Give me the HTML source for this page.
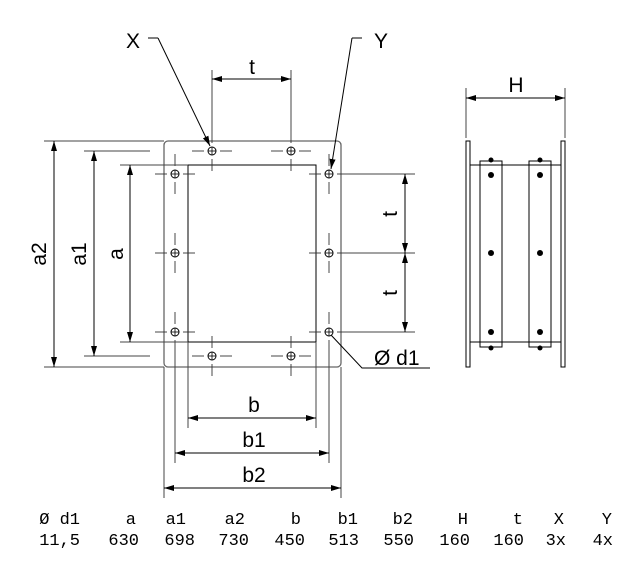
<!DOCTYPE html>
<html><head><style>body{margin:0;background:#fff}svg{display:block}</style></head><body>
<svg width="622" height="567" viewBox="0 0 622 567" xmlns="http://www.w3.org/2000/svg" font-family="Liberation Sans, sans-serif">
<defs>
<marker id="ar" viewBox="0 0 10 6" refX="10" refY="3" markerWidth="10" markerHeight="6" orient="auto-start-reverse" markerUnits="userSpaceOnUse"><path d="M0,0 L10,3 L0,6 z" fill="#000"/></marker>
<g id="h"><circle r="4" fill="none" stroke="#000" stroke-width="1"/><line x1="-4" x2="4" stroke="#000" stroke-width="0.8"/><line y1="-4" y2="4" stroke="#000" stroke-width="0.8"/>
<g stroke="#333" stroke-width="0.9"><line x1="-20" x2="-8"/><line x1="8" x2="20"/><line y1="-20" y2="-8"/><line y1="8" y2="20"/></g></g>
</defs>
<g stroke="#000" fill="none" stroke-width="1">
<!-- flange -->
<rect x="164" y="141" width="177" height="226" rx="4" stroke="#666" stroke-width="1.3"/>
<rect x="188" y="165" width="128" height="177"/>
<use href="#h" x="212" y="151"/><use href="#h" x="291" y="151"/><use href="#h" x="212" y="356"/><use href="#h" x="291" y="356"/>
<use href="#h" x="175" y="174"/><use href="#h" x="175" y="253"/><use href="#h" x="175" y="332"/>
<use href="#h" x="329" y="174"/><use href="#h" x="329" y="253"/><use href="#h" x="329" y="332"/>
<g stroke="#444">
<!-- extension lines -->
<line x1="44" y1="141" x2="164" y2="141"/><line x1="44" y1="367" x2="164" y2="367"/>
<line x1="84" y1="151" x2="150" y2="151"/><line x1="84" y1="356" x2="150" y2="356"/>
<line x1="120" y1="165" x2="188" y2="165"/><line x1="120" y1="342" x2="188" y2="342"/>
<line x1="164" y1="367" x2="164" y2="498"/><line x1="341" y1="367" x2="341" y2="498"/>
<line x1="188" y1="342" x2="188" y2="428"/><line x1="316" y1="342" x2="316" y2="428"/>
<line x1="175" y1="345" x2="175" y2="463"/><line x1="329" y1="345" x2="329" y2="463"/>
<line x1="212" y1="70" x2="212" y2="131"/><line x1="291" y1="70" x2="291" y2="131"/>
<line x1="349" y1="174" x2="415" y2="174"/><line x1="349" y1="253" x2="415" y2="253"/><line x1="349" y1="332" x2="415" y2="332"/>
<line x1="466" y1="88" x2="466" y2="138"/><line x1="565" y1="88" x2="565" y2="138"/>
</g>
<!-- dims -->
<line x1="54" y1="141" x2="54" y2="367" marker-start="url(#ar)" marker-end="url(#ar)"/>
<line x1="94" y1="151" x2="94" y2="356" marker-start="url(#ar)" marker-end="url(#ar)"/>
<line x1="130" y1="165" x2="130" y2="342" marker-start="url(#ar)" marker-end="url(#ar)"/>
<line x1="405" y1="174" x2="405" y2="253" marker-start="url(#ar)" marker-end="url(#ar)"/>
<line x1="405" y1="253" x2="405" y2="332" marker-start="url(#ar)" marker-end="url(#ar)"/>
<line x1="188" y1="418" x2="316" y2="418" marker-start="url(#ar)" marker-end="url(#ar)"/>
<line x1="175" y1="453" x2="329" y2="453" marker-start="url(#ar)" marker-end="url(#ar)"/>
<line x1="164" y1="488" x2="341" y2="488" marker-start="url(#ar)" marker-end="url(#ar)"/>
<line x1="212" y1="79" x2="291" y2="79" marker-start="url(#ar)" marker-end="url(#ar)"/>
<line x1="466" y1="98" x2="565" y2="98" marker-start="url(#ar)" marker-end="url(#ar)"/>
<!-- leaders -->
<line x1="148" y1="38" x2="158" y2="38"/><line x1="158" y1="38" x2="210" y2="146" marker-end="url(#ar)"/>
<line x1="352" y1="38" x2="362" y2="38"/><line x1="352" y1="38" x2="331" y2="169" marker-end="url(#ar)"/>
<polyline points="331,335 362,368 430,368"/>
<!-- side view -->
<rect x="466" y="141" width="4" height="226"/><rect x="561" y="141" width="4" height="226"/>
<line x1="470" y1="165" x2="561" y2="165"/><line x1="470" y1="342" x2="561" y2="342"/>
<rect x="480" y="161" width="22" height="186"/><rect x="529" y="161" width="22" height="186"/>
</g>
<g fill="#000">
<circle cx="491" cy="175" r="3"/><circle cx="491" cy="253" r="3"/><circle cx="491" cy="332" r="3"/>
<circle cx="540" cy="175" r="3"/><circle cx="540" cy="253" r="3"/><circle cx="540" cy="332" r="3"/>
<circle cx="491" cy="160" r="2.5"/><circle cx="540" cy="160" r="2.5"/><circle cx="491" cy="348" r="2.5"/><circle cx="540" cy="348" r="2.5"/>
</g>
<g font-size="21" fill="#000">
<text x="133" y="48" text-anchor="middle">X</text>
<text x="381" y="48" text-anchor="middle">Y</text>
<text x="252" y="74" text-anchor="middle">t</text>
<text x="516" y="92" text-anchor="middle">H</text>
<text x="254" y="412" text-anchor="middle">b</text>
<text x="254" y="447" text-anchor="middle">b1</text>
<text x="254" y="482" text-anchor="middle">b2</text>
<text x="374" y="365">Ø d1</text>
<text transform="translate(46,254) rotate(-90)" text-anchor="middle">a2</text>
<text transform="translate(86,254) rotate(-90)" text-anchor="middle">a1</text>
<text transform="translate(123,254) rotate(-90)" text-anchor="middle">a</text>
<text transform="translate(397,214) rotate(-90)" text-anchor="middle">t</text>
<text transform="translate(397,293) rotate(-90)" text-anchor="middle">t</text>
</g>
<g font-family="Liberation Mono, monospace" font-size="17" fill="#000" text-anchor="end">
<text x="80" y="524">Ø d1</text><text x="136" y="524">a</text><text x="186" y="524">a1</text><text x="245" y="524">a2</text><text x="301" y="524">b</text><text x="358" y="524">b1</text><text x="413" y="524">b2</text><text x="468" y="524">H</text><text x="523" y="524">t</text><text x="564" y="524">X</text><text x="612" y="524">Y</text>
<text x="80" y="545">11,5</text><text x="139" y="545">630</text><text x="195" y="545">698</text><text x="249" y="545">730</text><text x="305" y="545">450</text><text x="359" y="545">513</text><text x="414" y="545">550</text><text x="470" y="545">160</text><text x="524" y="545">160</text><text x="566" y="545">3x</text><text x="613" y="545">4x</text>
</g>
</svg>
</body></html>
